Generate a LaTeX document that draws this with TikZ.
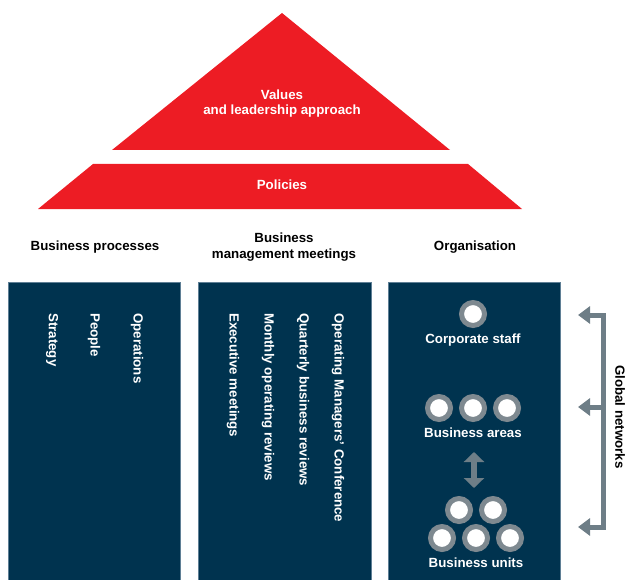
\documentclass[tikz,border=0pt]{standalone}
\usepackage{fontspec}
\setmainfont{Liberation Sans}
\usetikzlibrary{arrows.meta}
\definecolor{redc}{HTML}{ED1C24}
\definecolor{navy}{HTML}{00334F}
\definecolor{navyedge}{HTML}{5F7F95}
\definecolor{ringc}{HTML}{7E8990}
\definecolor{arrc}{HTML}{6E7E87}
\tikzset{
  bigtip/.tip={Triangle[width=17pt,length=12pt]},
  midtip/.tip={Triangle[width=20pt,length=10pt]},
}
\begin{document}
\begin{tikzpicture}[x=1pt,y=-1pt,
  hdr/.style={font=\bfseries\fontsize{13.3}{15.5}\selectfont, align=center, text=black, inner sep=0pt},
  wtxt/.style={font=\bfseries\fontsize{13.3}{15}\selectfont, text=white, align=center, inner sep=0pt},
  vtxt/.style={font=\bfseries\fontsize{13.3}{15}\selectfont, text=white, rotate=-90, anchor=west, inner sep=0pt},
  colbox/.style={fill=navy, draw=navyedge, line width=0.8pt},
  ring/.style={circle, fill=white, draw=ringc, line width=5pt, minimum size=23pt, inner sep=0pt},
]
\useasboundingbox (0,0) rectangle (626,580);

% pyramid
\fill[redc] (282,13) coordinate (apex) -- (450,150) coordinate (tr) -- (112,150) coordinate (tl) -- cycle;
\fill[redc] (93,164) -- (468,164) -- (522,209) -- (38,209) -- cycle;
\node[wtxt] (values) at (282,104) {Values\\and leadership approach};
\node[wtxt] (policies) at (282,185) {Policies};

% headers
\node[hdr] (h1) at (95,247) {Business processes};
\node[hdr] (h2) at (284,247) {Business\\management meetings};
\node[hdr] (h3) at (475,247) {Organisation};

% columns
\draw[colbox] (8,282) rectangle (180,590);
\draw[colbox] (198,282) rectangle (371,590);
\draw[colbox] (388,282) rectangle (560,590);

% column 1
\node[vtxt] (strategy) at (52,313) {Strategy};
\node[vtxt] (people) at (94,313) {People};
\node[vtxt] (operations) at (137,313) {Operations};

% column 2
\node[vtxt] (exec) at (233,313) {Executive meetings};
\node[vtxt] (monthly) at (268,313) {Monthly operating reviews};
\node[vtxt] (quarterly) at (303,313) {Quarterly business reviews};
\node[vtxt] (omc) at (338,313) {Operating Managers’ Conference};

% column 3
\node[ring] (cs) at (473,314) {};
\node[wtxt] (cstxt) at (473,340) {Corporate staff};
\node[ring] (ba1) at (439,408) {};
\node[ring] (ba2) at (473,408) {};
\node[ring] (ba3) at (507,408) {};
\node[wtxt] (batxt) at (473,433) {Business areas};
\node[ring] (bu1) at (459,510) {};
\node[ring] (bu2) at (493,510) {};
\node[ring] (bu3) at (442,538) {};
\node[ring] (bu4) at (476,538) {};
\node[ring] (bu5) at (510,538) {};
\node[wtxt] (butxt) at (476,563) {Business units};
\coordinate (dtop) at (474,452);
\coordinate (dbot) at (474,488);
\draw[arrc, line width=6pt, midtip-midtip] (dtop) -- (dbot);

% global networks
\coordinate (g1) at (578,315);
\coordinate (g2) at (578,407);
\coordinate (g3) at (578,527);
\coordinate (v1) at (603,315);
\coordinate (v2) at (603,407);
\coordinate (v3) at (603,527);
\draw[arrc, line width=5pt, line join=miter, bigtip-bigtip] (g1) -- (v1) -- (v3) -- (g3);
\draw[arrc, line width=5pt, -bigtip] (v2) -- (g2);
\node[hdr, rotate=-90] (gn) at (620,417) {Global networks};
\end{tikzpicture}
\end{document}
